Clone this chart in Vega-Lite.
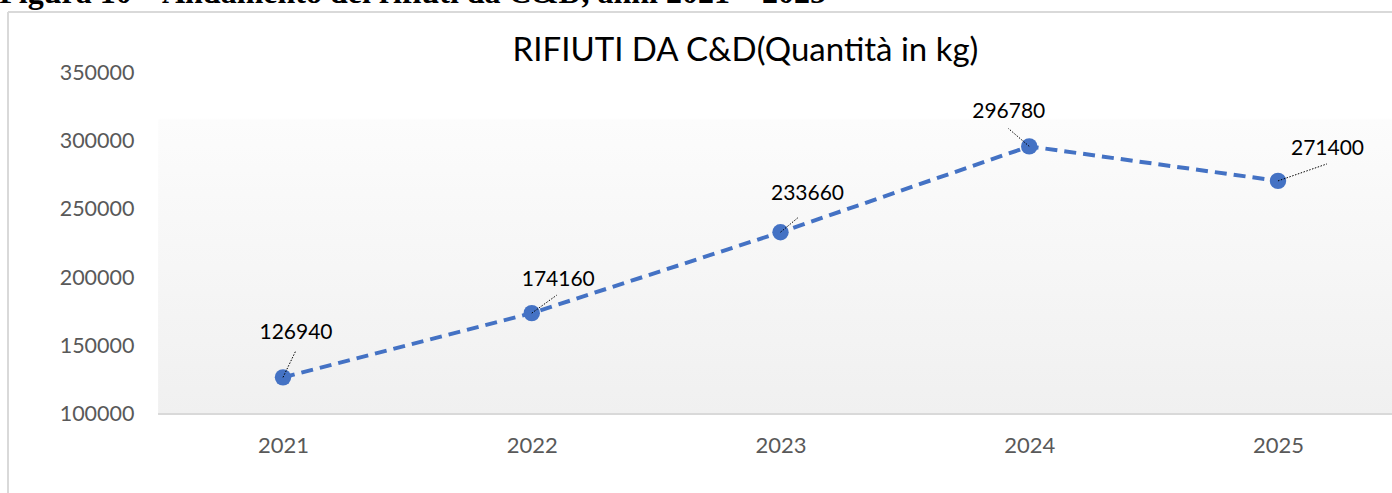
{
  "$schema": "https://vega.github.io/schema/vega-lite/v6.json",
  "width": 1384,
  "height": 481,
  "autosize": {"type": "none"},
  "padding": {"left": 8, "top": 12, "right": 0, "bottom": 0},
  "background": "white",
  "title": {
    "text": "Figura 10 – Andamento dei rifiuti da C&D, anni 2021 – 2025",
    "anchor": "start",
    "frame": "bounds",
    "font": "Liberation Serif",
    "fontSize": 32,
    "fontWeight": "bold",
    "color": "black",
    "baseline": "alphabetic",
    "offset": -24,
    "dx": -8
  },
  "config": {
    "view": {"stroke": null, "fill": "white"}
  },
  "data": {
    "values": [
      {"year": 2021, "value": 126940},
      {"year": 2022, "value": 174160},
      {"year": 2023, "value": 233660},
      {"year": 2024, "value": 296780},
      {"year": 2025, "value": 271400}
    ]
  },
  "encoding": {
    "x": {
      "field": "year", "type": "quantitative",
      "scale": {"domain": [2019.8945, 2025.4583], "nice": false, "zero": false},
      "axis": {
        "values": [2021, 2022, 2023, 2024, 2025], "format": "d", "orient": "bottom", "offset": -79,
        "domain": false, "ticks": false, "grid": false, "labelFlush": false, "labelOverlap": false,
        "labelFont": "Lato", "labelFontSize": 22, "labelColor": "#595959", "labelPadding": 21,
        "title": null
      }
    },
    "y": {
      "field": "value", "type": "quantitative",
      "scale": {"domain": [41912, 395588], "nice": false, "zero": false},
      "axis": {
        "values": [100000, 150000, 200000, 250000, 300000, 350000], "format": "d", "orient": "left", "offset": -150,
        "domain": false, "ticks": false, "grid": false, "labelFlush": false, "labelOverlap": false,
        "labelFont": "Lato", "labelFontSize": 21.5, "labelColor": "#595959", "labelPadding": 24,
        "title": "RIFIUTI DA C&D(Quantità in kg)", "titleAngle": 0, "titleAlign": "center", "titleBaseline": "alphabetic",
        "titleX": 587, "titleY": 48, "titleFont": "Lato", "titleFontSize": 33, "titleFontWeight": "normal", "titleColor": "black"
      }
    }
  },
  "layer": [
    {
      "mark": {
        "type": "rect",
        "color": {
          "gradient": "linear",
          "x1": 0, "y1": 0, "x2": 0, "y2": 1,
          "stops": [
            {"offset": 0, "color": "#ffffff"},
            {"offset": 0.13, "color": "#ffffff"},
            {"offset": 0.135, "color": "#fcfcfc"},
            {"offset": 1, "color": "#f0f0f0"}
          ]
        }
      },
      "encoding": {
        "x": {"datum": 2020.5, "type": "quantitative", "scale": {"domain": [2019.8945, 2025.4583], "nice": false, "zero": false}},
        "x2": {"datum": 2025.5},
        "y": {"datum": 100000, "type": "quantitative", "scale": {"domain": [41912, 395588], "nice": false, "zero": false}},
        "y2": {"datum": 350000}
      }
    },
    {
      "mark": {"type": "rule", "color": "#d9d9d9", "strokeWidth": 2},
      "encoding": {
        "x": {"datum": 2020.5, "type": "quantitative", "scale": {"domain": [2019.8945, 2025.4583], "nice": false, "zero": false}},
        "x2": {"datum": 2025.5},
        "y": {"datum": 100000, "type": "quantitative", "scale": {"domain": [41912, 395588], "nice": false, "zero": false}}
      }
    },
    {
      "mark": {"type": "rule", "color": "#d9d9d9", "strokeWidth": 1.5},
      "encoding": {
        "x": {"datum": 2019.8945, "type": "quantitative", "scale": {"domain": [2019.8945, 2025.4583], "nice": false, "zero": false}},
        "y": {"datum": 41912, "type": "quantitative", "scale": {"domain": [41912, 395588], "nice": false, "zero": false}},
        "y2": {"datum": 395588}
      }
    },
    {
      "mark": {"type": "rule", "color": "#d9d9d9", "strokeWidth": 1.5},
      "encoding": {
        "x": {"datum": 2019.8945, "type": "quantitative", "scale": {"domain": [2019.8945, 2025.4583], "nice": false, "zero": false}},
        "x2": {"datum": 2025.4583},
        "y": {"datum": 395588, "type": "quantitative", "scale": {"domain": [41912, 395588], "nice": false, "zero": false}}
      }
    },
    {
      "mark": {"type": "line", "color": "#4472c4", "strokeWidth": 4, "strokeDash": [12, 7]}
    },
    {
      "mark": {"type": "circle", "size": 270, "color": "#4472c4", "opacity": 1}
    },
    {
      "transform": [{"filter": "datum.year == 2021"}],
      "layer": [
        {"mark": {"type": "rule", "color": "black", "strokeWidth": 1, "strokeDash": [1.5, 1.5], "x2Offset": 13, "y2Offset": -27},
         "encoding": {"x2": {"field": "year"}, "y2": {"field": "value"}}},
        {"mark": {"type": "text", "font": "Lato", "fontSize": 21, "color": "black", "align": "center", "baseline": "alphabetic", "dx": 13, "dy": -38},
         "encoding": {"text": {"field": "value", "type": "quantitative", "format": "d"}}}
      ]
    },
    {
      "transform": [{"filter": "datum.year == 2022"}],
      "layer": [
        {"mark": {"type": "rule", "color": "black", "strokeWidth": 1, "strokeDash": [1.5, 1.5], "x2Offset": 25, "y2Offset": -18},
         "encoding": {"x2": {"field": "year"}, "y2": {"field": "value"}}},
        {"mark": {"type": "text", "font": "Lato", "fontSize": 21, "color": "black", "align": "center", "baseline": "alphabetic", "dx": 26.5, "dy": -27},
         "encoding": {"text": {"field": "value", "type": "quantitative", "format": "d"}}}
      ]
    },
    {
      "transform": [{"filter": "datum.year == 2023"}],
      "layer": [
        {"mark": {"type": "rule", "color": "black", "strokeWidth": 1, "strokeDash": [1.5, 1.5], "x2Offset": 18, "y2Offset": -15},
         "encoding": {"x2": {"field": "year"}, "y2": {"field": "value"}}},
        {"mark": {"type": "text", "font": "Lato", "fontSize": 21, "color": "black", "align": "center", "baseline": "alphabetic", "dx": 27, "dy": -32},
         "encoding": {"text": {"field": "value", "type": "quantitative", "format": "d"}}}
      ]
    },
    {
      "transform": [{"filter": "datum.year == 2024"}],
      "layer": [
        {"mark": {"type": "rule", "color": "black", "strokeWidth": 1, "strokeDash": [1.5, 1.5], "x2Offset": -21, "y2Offset": -18},
         "encoding": {"x2": {"field": "year"}, "y2": {"field": "value"}}},
        {"mark": {"type": "text", "font": "Lato", "fontSize": 21, "color": "black", "align": "center", "baseline": "alphabetic", "dx": -20.5, "dy": -28},
         "encoding": {"text": {"field": "value", "type": "quantitative", "format": "d"}}}
      ]
    },
    {
      "transform": [{"filter": "datum.year == 2025"}],
      "layer": [
        {"mark": {"type": "rule", "color": "black", "strokeWidth": 1, "strokeDash": [1.5, 1.5], "x2Offset": 49, "y2Offset": -17},
         "encoding": {"x2": {"field": "year"}, "y2": {"field": "value"}}},
        {"mark": {"type": "text", "font": "Lato", "fontSize": 21, "color": "black", "align": "center", "baseline": "alphabetic", "dx": 49.5, "dy": -26},
         "encoding": {"text": {"field": "value", "type": "quantitative", "format": "d"}}}
      ]
    }
  ]
}
